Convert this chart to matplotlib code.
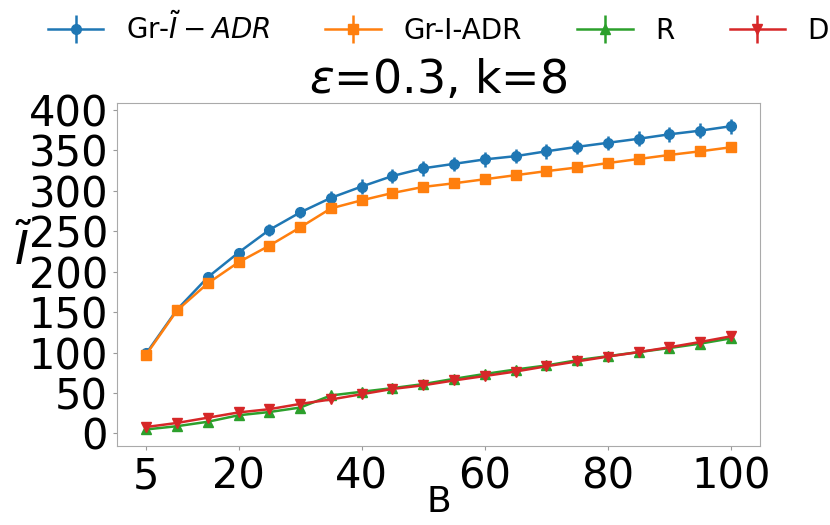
import numpy as np
import matplotlib
matplotlib.use("Agg")
import matplotlib.pyplot as plt

# %% Data
budgets = [5, 10, 15, 20, 25, 30, 35, 40, 45, 50, 55, 60, 65, 70, 75, 80, 85, 90, 95, 100]

gr_tilde = [99, 153, 193, 223.5, 251.5, 273, 291, 305, 318, 327.5, 333, 338.5, 342.5, 348.5, 354, 359, 364, 369.5, 374, 379.5]
gr_tilde_err = [3, 4, 5, 6, 7, 7, 8, 9, 9, 9, 9, 9, 9, 9, 9, 9, 9, 9, 9, 9.5]

gr_i = [97.5, 152, 185.5, 211.5, 232, 254.5, 278, 288, 297, 304.5, 309, 314, 319, 324, 328.5, 334, 339, 344, 348.5, 353.5]
gr_i_err = [1.5, 1.5, 2, 2, 2, 2, 2, 2, 2, 2, 2, 2, 2, 2, 2, 2, 2, 2, 2, 2]

rand = [5, 9, 14.5, 22.5, 26.5, 32, 47, 51.5, 56, 61, 67.5, 73.5, 79, 84, 90.5, 95.5, 100.5, 105.5, 111, 117.5]
rand_err = [1.5, 1.5, 1.5, 2, 2, 2, 2.5, 2.5, 2.5, 2.5, 2.5, 2.5, 2.5, 2.5, 2.5, 2.5, 2.5, 2.5, 2.5, 2.5]

degree = [8, 13, 19.5, 26, 30, 36.5, 42, 48.5, 55, 59.5, 65.5, 71, 76.5, 83, 89, 95, 100.5, 106.5, 113, 120]
degree_err = [1.5, 1.5, 1.5, 2, 2, 2, 2.5, 2.5, 2.5, 2.5, 2.5, 2.5, 2.5, 2.5, 2.5, 2.5, 2.5, 2.5, 2.5, 2.5]

series = [
    (gr_tilde, gr_tilde_err, r'Gr-$\tilde{I}-ADR$', 'o'),
    (gr_i, gr_i_err, 'Gr-I-ADR', 's'),
    (rand, rand_err, 'R', '^'),
    (degree, degree_err, 'D', 'v'),
]

# %% Plot
fig = plt.figure(figsize=(8.3, 5.25), dpi=100)
ax = fig.add_axes([0.141, 0.150, 0.775, 0.654])

for values, errs, label, marker in series:
    ax.errorbar(budgets, values, yerr=errs, marker=marker, markersize=7,
                linewidth=1.8, label=label)

ax.set_xticks([5, 20, 40, 60, 80, 100])
ax.set_yticks(range(0, 401, 50))
ax.tick_params(axis='both', labelsize=30, colors='#999999', labelcolor='black', length=3)
for spine in ax.spines.values():
    spine.set_color('#aaaaaa')

ax.set_title(r'$\epsilon$=0.3, k=8', fontsize=33)
ax.set_xlabel('B', fontsize=26, labelpad=-9)
ax.set_ylabel(r'$\tilde{I}$', fontsize=34, rotation=0)
ax.yaxis.set_label_coords(-0.145, 0.50)

fig.legend(loc='upper center', bbox_to_anchor=(0.528, 1.025), ncol=4,
           frameon=False, fontsize=20, columnspacing=2.0, handlelength=2.0)

fig.savefig('out.png', dpi=100)
